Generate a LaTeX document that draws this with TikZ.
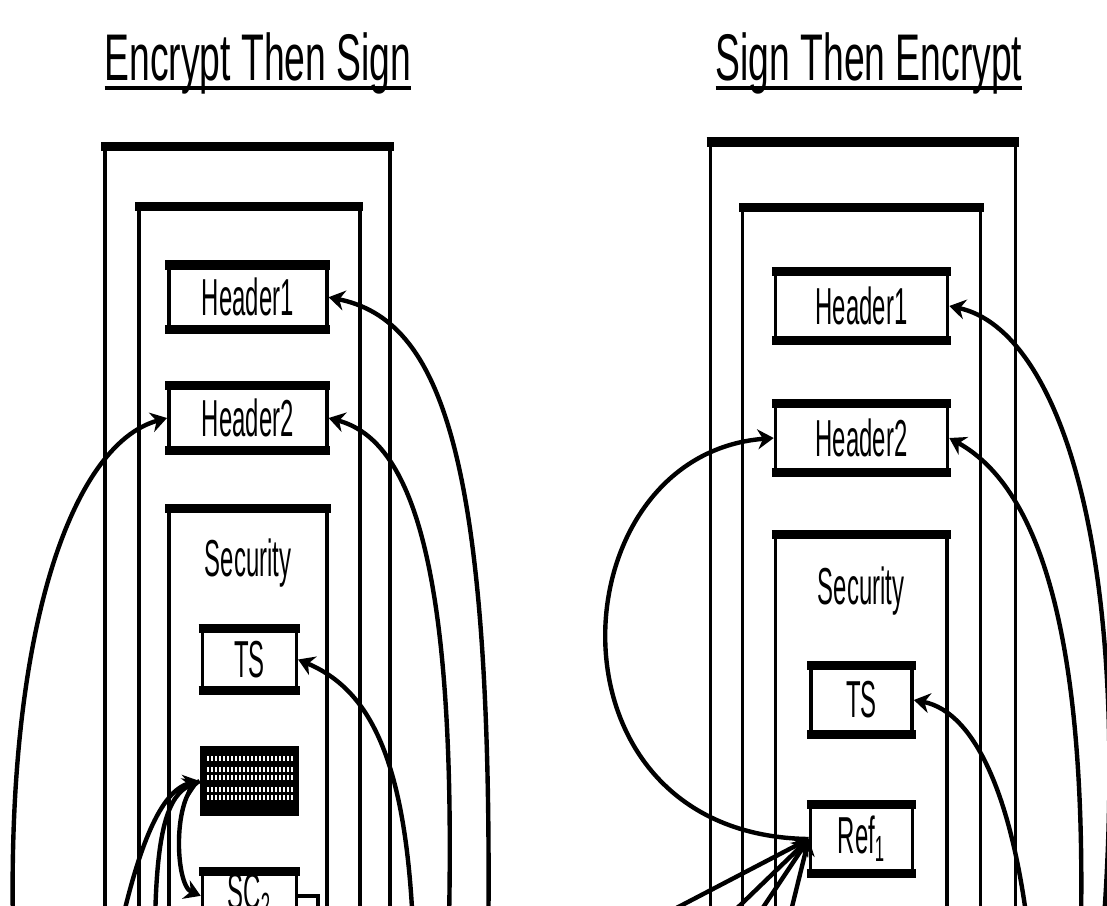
\documentclass[tikz,border=0pt]{standalone}
\usepackage{fontspec}
\newfontfamily\titlefont[FakeStretch=0.565]{Liberation Sans}
\newfontfamily\boxfont[FakeStretch=0.46]{Liberation Sans}
\usetikzlibrary{arrows.meta}
% underlined heading, thick rule under the text
\newcommand\ulined[1]{\sbox0{#1}\rlap{\rule[-5pt]{\wd0}{2pt}}\usebox0}

\begin{document}
\begin{tikzpicture}[x=0.5pt, y=-0.5pt,
    msgbox/.style={draw, line width=1.8pt, inner sep=0pt, font=\boxfont\fontsize{26}{28}\selectfont,
      append after command={(\tikzlastnode.north west) edge[edgerule] (\tikzlastnode.north east)
        (\tikzlastnode.south west) edge[edgerule] (\tikzlastnode.south east)}},
    edgerule/.style={draw, line width=4.6pt, shorten <=-0.9pt, shorten >=-0.9pt},
    enc/.style={fill=black, inner sep=0pt, minimum width=49.5pt, minimum height=35pt,
      path picture={\foreach \r in {10,21,29,41,49} \foreach \c in {7,11,...,91}
        \fill[white] ([shift={(\c,\r)}]path picture bounding box.north west) rectangle ++(2,5);}},
    lbl/.style={inner sep=0pt, font=\boxfont\fontsize{26}{28}\selectfont},
    ttl/.style={inner sep=0pt, font=\titlefont\fontsize{33}{36}\selectfont},
    link/.style={draw, line width=2.2pt, -{Stealth[length=8pt,width=10pt]}},
    wire/.style={draw, line width=2.2pt}]
    \useasboundingbox (0,0) rectangle (1107,905);
    \clip (0,0) rectangle (1107,905);

    % Encrypt then sign
    \node[ttl, anchor=base] (ttlL) at (258,80) {\ulined{Encrypt Then Sign}};
    \node[msgbox, anchor=north, minimum width=142.5pt, minimum height=600pt] (outerL) at (247.5,146.7) {};
    \node[msgbox, anchor=north, minimum width=110.5pt, minimum height=600pt] (innerL) at (249.2,206.7) {};
    \node[msgbox, minimum width=79pt, minimum height=30.5pt] (hdr1L) at (247.8,297.2) {Header1};
    \node[msgbox, minimum width=79pt, minimum height=30.5pt] (hdr2L) at (247.8,418) {Header2};
    \node[msgbox, anchor=north, minimum width=79pt, minimum height=400pt] (secL) at (248,508.5) {};
    \node[lbl] (secLtext) at (248,563) {Security};
    \node[msgbox, minimum width=47pt, minimum height=29.5pt] (tsL) at (249.3,659.5) {TS};
    \node[enc] (encL) at (249.5,781) {};
    \node[msgbox, anchor=north, minimum width=47pt, minimum height=22pt] (scL) at (249.5,871.7) {SC\textsubscript{2}};

    \coordinate (bL1) at (488,960);
    \coordinate (bL2) at (448,960);
    \coordinate (bL3) at (414,960);
    \coordinate (bL4) at (14,960);
    \coordinate (bL5) at (120,930);
    \coordinate (bL6) at (155,930);
    \coordinate (stubL) at (318,930);
    \draw[link] (bL1) .. controls (495,450) and (440,320) .. (hdr1L.east);
    \draw[link] (bL2) .. controls (460,560) and (410,440) .. (hdr2L.east);
    \draw[link] (bL3) .. controls (410,760) and (370,690) .. (tsL.east);
    \draw[link] (bL4) .. controls (2,640) and (70,445) .. (hdr2L.west);
    \draw[link] (bL5) .. controls (138,850) and (160,790) .. (encL.west);
    \draw[link] (bL6) .. controls (156,830) and (168,795) .. (encL.west);
    \draw[link] (encL.west) .. controls (172,795) and (175,885) .. (scL.west);
    \draw[wire] (scL.east) -| (stubL);

    % Sign then encrypt
    \node[ttl, anchor=base] (ttlR) at (869,80) {\ulined{Sign Then Encrypt}};
    \node[msgbox, anchor=north, minimum width=152.5pt, minimum height=600pt] (outerR) at (862.8,142) {};
    \node[msgbox, anchor=north, minimum width=119pt, minimum height=600pt] (innerR) at (861.6,207.5) {};
    \node[msgbox, minimum width=86pt, minimum height=33pt] (hdr1R) at (861.5,306) {Header1};
    \node[msgbox, minimum width=86pt, minimum height=33pt] (hdr2R) at (861.5,438) {Header2};
    \node[msgbox, anchor=north, minimum width=85.75pt, minimum height=400pt] (secR) at (861.3,534.7) {};
    \node[lbl] (secRtext) at (861,591) {Security};
    \node[msgbox, minimum width=50.5pt, minimum height=33pt] (tsR) at (861.5,700) {TS};
    \node[msgbox, minimum width=51pt, minimum height=33pt] (refR) at (861.5,839) {Ref\textsubscript{1}};

    \coordinate (bR1) at (1098,990);
    \coordinate (bR2) at (1079,990);
    \coordinate (bR3) at (1034,990);
    \draw[link] (bR1) .. controls (1140,560) and (1060,330) .. (hdr1R.east);
    \draw[link] (bR2) .. controls (1095,600) and (1025,480) .. (hdr2R.east);
    \draw[link] (bR3) .. controls (1020,800) and (975,712) .. (tsR.east);
    \draw[link] (refR.west) .. controls (535,835) and (555,455) .. (hdr2R.west);
    \foreach \n/\x in {5/663,6/730,7/758,8/790} {
        \coordinate (bR\n) at (\x,915);
        \draw[link] (bR\n) -- (refR.west);
    }
\end{tikzpicture}
\end{document}
